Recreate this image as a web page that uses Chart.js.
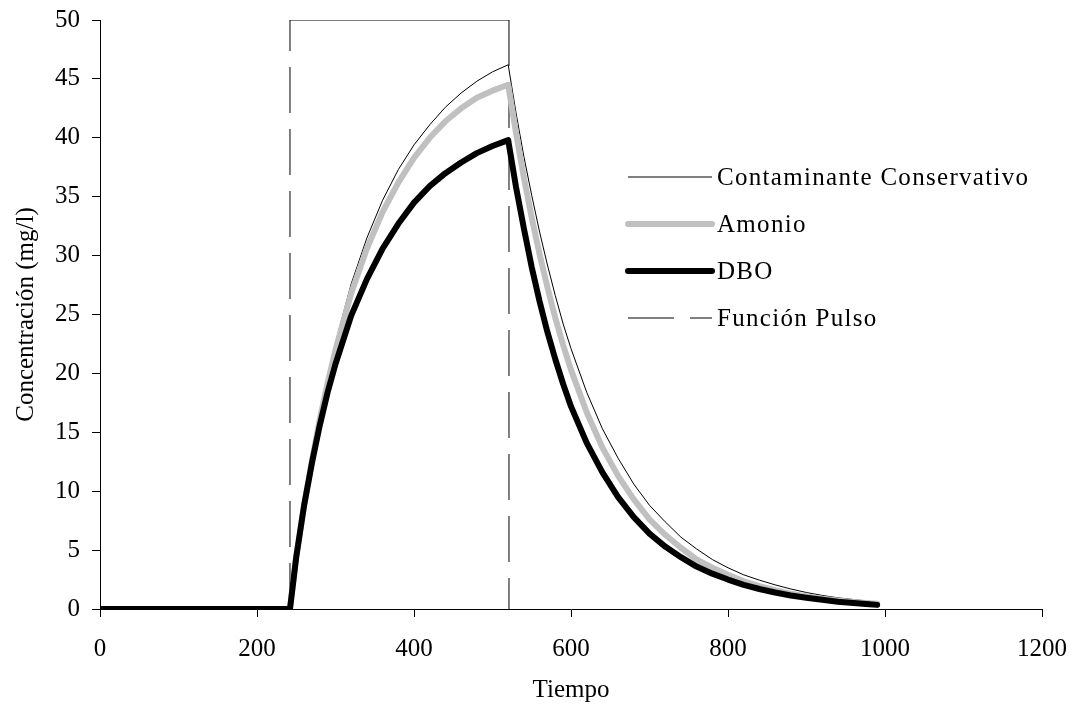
<!DOCTYPE html>
<html>
<head>
<meta charset="utf-8">
<script src="https://cdn.jsdelivr.net/npm/chart.js@4.4.0/dist/chart.umd.min.js"></script>
<style>
  body { margin: 0; background: #fff; }
</style>
</head>
<body>
<canvas id="chart-pulso" width="1074" height="715"></canvas>
<script>
// Tiempo de muestreo
let tiempo = [0, 242, 250, 260, 270, 280, 290, 300, 320, 340, 360, 380, 400, 420, 440, 460, 480, 500, 520,
              530, 540, 550, 560, 570, 580, 590, 600, 620, 640, 660, 680, 700, 720, 740, 760, 780, 800,
              820, 840, 860, 880, 900, 920, 940, 960, 980, 990];

// Concentraciones (mg/l)
let conservativo = [0, 0, 4.6, 9.0, 13.0, 16.5, 19.7, 22.6, 27.6, 31.5, 34.7, 37.3, 39.4, 41.1, 42.6, 43.8, 44.8, 45.6, 46.2,
                    42.1, 38.4, 35.1, 32.0, 29.2, 26.6, 24.2, 22.1, 18.4, 15.3, 12.8, 10.6, 8.8, 7.4, 6.1, 5.1,
                    4.2, 3.5, 2.9, 2.45, 2.05, 1.7, 1.4, 1.15, 0.95, 0.8, 0.65, 0.6];
let amonio = [0, 0, 4.5, 8.8, 12.6, 16.1, 19.2, 22.0, 26.8, 30.6, 33.7, 36.2, 38.3, 40.0, 41.4, 42.5, 43.4, 44.0, 44.5,
              40.4, 36.6, 33.2, 30.1, 27.3, 24.7, 22.4, 20.3, 16.7, 13.7, 11.3, 9.3, 7.6, 6.3, 5.2, 4.2,
              3.5, 2.9, 2.35, 1.95, 1.6, 1.3, 1.07, 0.88, 0.72, 0.6, 0.49, 0.45];
let dbo = [0, 0, 4.4, 8.8, 12.4, 15.6, 18.4, 20.8, 24.9, 28.0, 30.6, 32.7, 34.5, 35.9, 37.0, 37.9, 38.7, 39.3, 39.8,
           35.8, 32.3, 29.0, 26.1, 23.5, 21.2, 19.1, 17.2, 14.1, 11.6, 9.5, 7.8, 6.4, 5.3, 4.4, 3.6,
           3.0, 2.5, 2.05, 1.7, 1.4, 1.15, 0.95, 0.78, 0.62, 0.5, 0.4, 0.35];

// Función pulso
let pulsoX = [242, 242, 521, 521];
let pulsoY = [0, 50, 50, 0];

function puntos(xs, ys) {
    return xs.map((x, i) => ({ x: x, y: ys[i] }));
}

let familia = '"Liberation Serif", "Times New Roman", serif';
let fuente = { family: familia, size: 25 };

// leyenda dentro del área del gráfico
const leyenda = {
    id: 'leyenda',
    afterDraw(chart) {
        const ctx = chart.ctx;
        ctx.save();
        ctx.font = '25px ' + familia;
        ctx.letterSpacing = '1.3px';
        ctx.textBaseline = 'middle';
        ctx.fillStyle = '#000';
        chart.data.datasets.forEach((ds, i) => {
            const y = 177 + i * 47;
            ctx.beginPath();
            ctx.lineWidth = ds.borderWidth;
            ctx.strokeStyle = ds.borderColor;
            ctx.lineCap = ds.borderWidth > 2 ? 'round' : 'butt';
            ctx.setLineDash(ds.borderDash || []);
            ctx.moveTo(628, y);
            ctx.lineTo(712, y);
            ctx.stroke();
            ctx.setLineDash([]);
            ctx.fillText(ds.label, 717, y + 1);
        });
        ctx.restore();
    }
};

let ctxPulso = document.getElementById('chart-pulso').getContext('2d');

let chartPulso = new Chart(ctxPulso, {
    type: 'line',
    data: {
        datasets: [
            {
                label: 'Contaminante Conservativo',
                data: puntos(tiempo, conservativo),
                borderColor: '#000',
                borderWidth: 1,
                order: 3
            },
            {
                label: 'Amonio',
                data: puntos(tiempo, amonio),
                borderColor: '#c0c0c0',
                borderWidth: 6,
                borderCapStyle: 'round',
                borderJoinStyle: 'round',
                order: 2
            },
            {
                label: 'DBO',
                data: puntos(tiempo, dbo),
                borderColor: '#000',
                borderWidth: 6,
                borderCapStyle: 'round',
                borderJoinStyle: 'round',
                order: 1
            },
            {
                label: 'Función Pulso',
                data: puntos(pulsoX, pulsoY),
                borderColor: '#000',
                borderWidth: 1,
                borderDash: [46, 16],
                segment: {
                    borderDash: c => c.p0.parsed.x === c.p1.parsed.x ? [46, 16] : []
                },
                order: 4
            }
        ]
    },
    options: {
        responsive: false,
        animation: false,
        elements: {
            point: { radius: 0 },
            line: { tension: 0, fill: false }
        },
        layout: {
            padding: { top: 20, right: 32, left: 0, bottom: 0 }
        },
        plugins: {
            legend: { display: false },
            tooltip: { enabled: false }
        },
        scales: {
            x: {
                type: 'linear',
                min: 0,
                max: 1200,
                ticks: {
                    stepSize: 200, color: '#000', font: fuente, padding: 17, maxRotation: 0,
                    callback: v => String(v)
                },
                grid: { drawOnChartArea: false, drawTicks: true, tickLength: 8, color: '#000' },
                border: { color: '#000', width: 1 },
                title: { display: true, text: 'Tiempo', color: '#000', font: fuente, padding: { top: 0, bottom: 10 } },
                afterFit(scale) {
                    scale.height = 106;
                    scale.paddingLeft = 0;
                    scale.paddingRight = 0;
                }
            },
            y: {
                min: 0,
                max: 50,
                ticks: { stepSize: 5, color: '#000', font: fuente, padding: 12 },
                grid: { drawOnChartArea: false, drawTicks: true, tickLength: 8, color: '#000' },
                border: { color: '#000', width: 1 },
                title: { display: true, text: 'Concentración (mg/l)', color: '#000', font: fuente, padding: { top: 11, bottom: 0 } },
                afterFit(scale) {
                    scale.width = 100;
                    scale.paddingTop = 0;
                    scale.paddingBottom = 0;
                }
            }
        }
    },
    plugins: [leyenda]
});
</script>
</body>
</html>
